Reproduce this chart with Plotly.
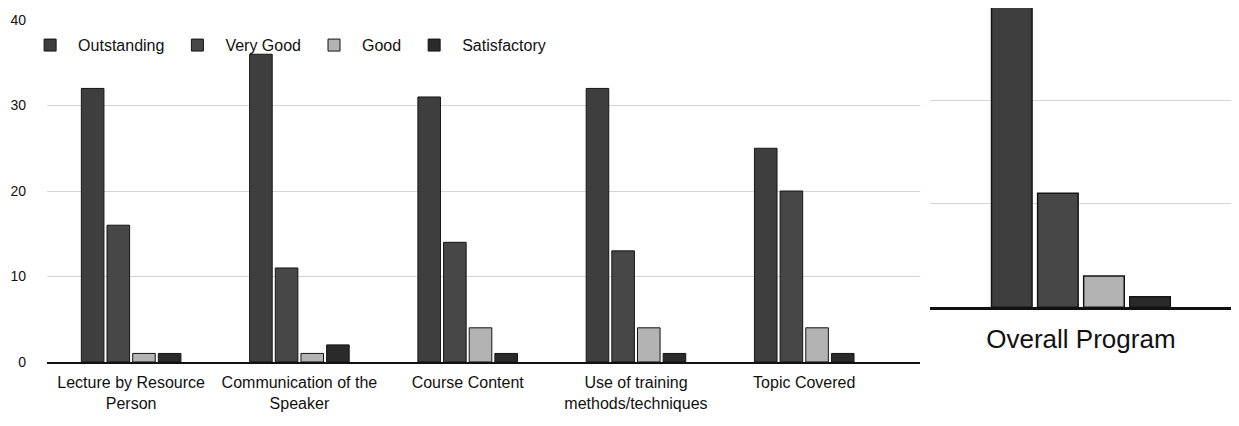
import plotly.graph_objects as go

categories = ["Lecture by Resource<br>Person", "Communication of the<br>Speaker", "Course Content",
              "Use of training<br>methods/techniques", "Topic Covered"]
series_names = ["Outstanding", "Very Good", "Good", "Satisfactory"]
outstanding = [32, 36, 31, 32, 25]
very_good = [16, 11, 14, 13, 20]
good = [1, 1, 4, 4, 4]
satisfactory = [1, 2, 1, 1, 1]

overall_category = ["Overall Program"]
overall_outstanding = [35]
overall_very_good = [11]
overall_good = [3]
overall_satisfactory = [1]

colors = ["#3e3e3e", "#474747", "#b3b3b3", "#2a2a2a"]
left_values = [outstanding, very_good, good, satisfactory]
right_values = [overall_outstanding, overall_very_good, overall_good, overall_satisfactory]

fig = go.Figure()
for name, vals, col in zip(series_names, left_values, colors):
    fig.add_trace(go.Bar(x=categories, y=vals, name=name, xaxis="x", yaxis="y",
                         marker=dict(color=col, line=dict(color="#151515", width=1)),
                         offsetgroup=name))
for name, vals, col in zip(series_names, right_values, colors):
    fig.add_trace(go.Bar(x=overall_category, y=vals, name=name, xaxis="x2", yaxis="y2",
                         marker=dict(color=col, line=dict(color="#151515", width=1.5)),
                         offsetgroup=name, showlegend=False))

narrow = "Liberation Sans Narrow, Arial Narrow, Liberation Sans, Arial, sans-serif"
grid = "#ddd0d0"

fig.update_layout(
    width=1231, height=418,
    margin=dict(l=39, r=7, t=0, b=64, autoexpand=False),
    paper_bgcolor="white", plot_bgcolor="white",
    barmode="group", bargap=0.39, bargroupgap=0.12,
    font=dict(family=narrow, color="#111", size=15),
    showlegend=True,
    legend=dict(orientation="h", x=-0.021, y=0.895, xanchor="left", yanchor="middle",
                font=dict(family=narrow, size=16, color="#111"), bgcolor="rgba(0,0,0,0)",
                itemwidth=46, tracegroupgap=0),
    xaxis=dict(domain=[0, 0.737], range=[-0.5, 4.69], showline=True, linecolor="#111",
               linewidth=2, ticks="", tickfont=dict(family=narrow, size=16, color="#111"),
               showgrid=False, anchor="y", automargin=False, ticklabelstandoff=5),
    yaxis=dict(domain=[0, 0.966], range=[0, 40], tickvals=[0, 10, 20, 30, 40],
               showgrid=True, gridcolor=grid, gridwidth=1, zeroline=False, showline=False,
               ticks="", ticklabelstandoff=20, automargin=False,
               tickfont=dict(family=narrow, size=14, color="#111"), anchor="x"),
    xaxis2=dict(domain=[0.745, 1], range=[-0.5, 0.5], showline=True, linecolor="#111",
                linewidth=2.5, ticks="", tickfont=dict(family="Liberation Sans, Arial, sans-serif",
                                                        size=26, color="#111"),
                showgrid=False, anchor="y2", automargin=False, ticklabelstandoff=7),
    yaxis2=dict(domain=[0.155, 1], range=[0, 28.9], tickvals=[10, 20],
                showgrid=True, gridcolor=grid, gridwidth=1, zeroline=False, showline=False,
                showticklabels=False, ticks="", anchor="x2", automargin=False),
)

fig.write_html("out.html")
